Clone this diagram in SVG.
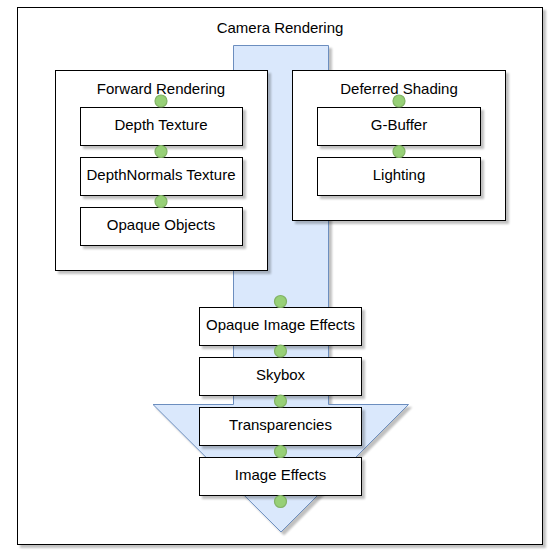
<svg xmlns="http://www.w3.org/2000/svg" width="554" height="555" viewBox="0 0 554 555">
<defs>
<filter id="sh" x="-10%" y="-10%" width="130%" height="130%">
<feGaussianBlur in="SourceAlpha" stdDeviation="1.2"/>
<feOffset dx="3" dy="3" result="b"/>
<feComponentTransfer><feFuncA type="linear" slope="0.25"/></feComponentTransfer>
<feMerge><feMergeNode/><feMergeNode in="SourceGraphic"/></feMerge>
</filter>
</defs>
<style>
.box{fill:#ffffff;stroke:#000000;stroke-width:1;filter:url(#sh)}
.lbl{font-family:"Liberation Sans",Arial,sans-serif;font-size:15px;fill:#000000;text-anchor:middle}
.dot{fill:#97d077;stroke:#82b366;stroke-width:1.2}
.arrow{fill:#dae8fc;stroke:#6c8ebf;stroke-width:1;filter:url(#sh)}
</style>
<rect width="554" height="555" fill="#ffffff"/>
<g id="camera-rendering">
<rect class="box" x="17.5" y="7.5" width="525" height="537"/>
<text class="lbl" x="280" y="33">Camera Rendering</text>
</g>
<g id="flow-arrow">
<polygon class="arrow" points="233.5,45.5 328.5,45.5 328.5,404.5 408.5,404.5 281,532 153,404.5 233.5,404.5"/>
</g>
<g id="forward-rendering">
<rect class="box" x="55.5" y="70.5" width="212" height="200"/>
<text class="lbl" x="161" y="94">Forward Rendering</text>
</g>
<g id="depth-texture">
<rect class="box" x="80.5" y="107.5" width="162" height="38"/>
<text class="lbl" x="161" y="130">Depth Texture</text>
</g>
<g id="depthnormals-texture">
<rect class="box" x="80.5" y="157.5" width="162" height="38"/>
<text class="lbl" x="161" y="180">DepthNormals Texture</text>
</g>
<g id="opaque-objects">
<rect class="box" x="80.5" y="207.5" width="162" height="38"/>
<text class="lbl" x="161" y="230">Opaque Objects</text>
</g>
<g id="deferred-shading">
<rect class="box" x="292.5" y="70.5" width="213" height="150"/>
<text class="lbl" x="399" y="94">Deferred Shading</text>
</g>
<g id="g-buffer">
<rect class="box" x="317.5" y="107.5" width="163" height="38"/>
<text class="lbl" x="399" y="130">G-Buffer</text>
</g>
<g id="lighting">
<rect class="box" x="317.5" y="157.5" width="163" height="38"/>
<text class="lbl" x="399" y="180">Lighting</text>
</g>
<g id="opaque-image-effects">
<rect class="box" x="199.5" y="307.5" width="162" height="38"/>
<text class="lbl" x="280.5" y="330">Opaque Image Effects</text>
</g>
<g id="skybox">
<rect class="box" x="199.5" y="357.5" width="162" height="38"/>
<text class="lbl" x="280.5" y="380">Skybox</text>
</g>
<g id="transparencies">
<rect class="box" x="199.5" y="407.5" width="162" height="38"/>
<text class="lbl" x="280.5" y="430">Transparencies</text>
</g>
<g id="image-effects">
<rect class="box" x="199.5" y="457.5" width="162" height="38"/>
<text class="lbl" x="280.5" y="480">Image Effects</text>
</g>
<g id="connectors">
<circle class="dot" cx="161" cy="101" r="6"/>
<circle class="dot" cx="161" cy="151.5" r="6"/>
<circle class="dot" cx="161" cy="201.5" r="6"/>
<circle class="dot" cx="399" cy="101" r="6"/>
<circle class="dot" cx="399" cy="151.5" r="6"/>
<circle class="dot" cx="280.5" cy="301.5" r="6"/>
<circle class="dot" cx="280.5" cy="351" r="6"/>
<circle class="dot" cx="280.5" cy="401" r="6"/>
<circle class="dot" cx="280.5" cy="451.5" r="6"/>
<circle class="dot" cx="280.5" cy="501.5" r="6"/>
</g>
</svg>
